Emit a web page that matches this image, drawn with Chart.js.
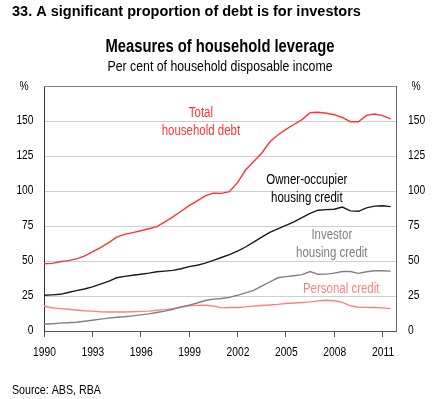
<!DOCTYPE html>
<html>
<head>
<meta charset="utf-8">
<script src="https://cdn.jsdelivr.net/npm/chart.js@4.4.0/dist/chart.umd.min.js"></script>
<style>
  html, body { margin: 0; padding: 0; background: #fff; }
  #wrap { width: 440px; height: 399px; position: relative; }
</style>
</head>
<body>
<div id="wrap"><canvas id="leverage"></canvas></div>
<script>
'use strict';

// half-yearly observations, per cent of household disposable income
var years = [
  1990.0, 1990.5, 1991.0, 1991.5, 1992.0, 1992.5, 1993.0, 1993.5, 1994.0, 1994.5,
  1995.0, 1995.5, 1996.0, 1996.5, 1997.0, 1997.5, 1998.0, 1998.5, 1999.0, 1999.5,
  2000.0, 2000.5, 2001.0, 2001.5, 2002.0, 2002.5, 2003.0, 2003.5, 2004.0, 2004.5,
  2005.0, 2005.5, 2006.0, 2006.5, 2007.0, 2007.5, 2008.0, 2008.5, 2009.0, 2009.5,
  2010.0, 2010.5, 2011.0, 2011.5
];
var totalDebt = [
  48, 48.3, 49.5, 50.3, 51.5, 53.5, 56.5, 59.5, 63, 67,
  69, 70.3, 71.6, 73, 74.5, 78, 81.5, 85.5, 89.5, 93,
  96.5, 98.5, 98.3, 99.5, 106, 115, 121, 127, 135, 140,
  144, 147.5, 151, 156, 156.2, 155.5, 154.5, 152.5, 149.5, 149.5,
  154, 155, 153.8, 151.5
];
var ownerOccupier = [
  25.5, 25.8, 26.2, 27.5, 28.8, 30, 31.5, 33.5, 35.5, 38,
  39, 39.8, 40.5, 41.3, 42.3, 42.8, 43.3, 44.5, 46, 47,
  48.5, 50.5, 52.5, 54.5, 57, 60, 63.5, 67, 70.5, 73,
  75.5, 78, 81, 84, 86.3, 86.7, 87, 88.5, 85.8, 85.5,
  88, 89.2, 89.5, 88.8
];
var investor = [
  4.8, 5.2, 5.6, 5.9, 6.3, 7, 7.7, 8.5, 9.2, 9.8,
  10.2, 10.8, 11.5, 12.2, 13.2, 14.2, 15.5, 17.2, 18.5, 20,
  21.8, 22.8, 23.2, 24, 25.5, 27.2, 29, 32, 35, 38,
  38.8, 39.5, 40.3, 42.5, 40.5, 40.6, 41.3, 42.5, 42.5, 41.2,
  42.3, 43, 43, 42.8
];
var personal = [
  17.7, 16.6, 16, 15.5, 15, 14.5, 14.2, 13.8, 13.6, 13.6,
  13.6, 13.8, 14, 14.2, 14.8, 15.3, 16, 17, 18, 18.3,
  18.4, 17.9, 16.5, 16.8, 16.8, 17.2, 17.8, 18.2, 18.6, 19,
  19.6, 20, 20.4, 20.8, 21.5, 22, 21.6, 20.5, 18, 17,
  16.9, 16.8, 16.5, 16
];
var xTicks = [1990, 1993, 1996, 1999, 2002, 2005, 2008, 2011];
var yTicks = [0, 25, 50, 75, 100, 125, 150, 175];

var FONT = '"Liberation Sans", Arial, sans-serif';
var SQUEEZE = 0.82; // the original uses a narrow face, no narrow font here

Chart.defaults.font.family = FONT;
Chart.defaults.color = '#000';

function pts(arr) {
  return years.map(function (x, i) { return { x: x, y: arr[i] }; });
}

// text drawn squeezed sideways to look like Arial Narrow
function narrow(c, text, x, y, align) {
  c.save();
  c.translate(x, y);
  c.scale(SQUEEZE, 1);
  c.textAlign = align;
  c.fillText(text, 0, 0);
  c.restore();
}

// labels placed on the chart next to each line
var notes = [
  { lines: ['Total', 'household debt'], x: 1999.73, y: 155.7, color: '#ff3535' },
  { lines: ['Owner-occupier', 'housing credit'], x: 2006.3, y: 108, color: '#000' },
  { lines: ['Investor', 'housing credit'], x: 2007.85, y: 68.6, color: '#808080' },
  { lines: ['Personal credit'], x: 2008.43, y: 29.7, color: '#ff8080' }
];

var textPlugin = {
  id: 'texts',
  afterDraw: function (chart) {
    var c = chart.ctx;
    var a = chart.chartArea;
    var sx = chart.scales.x;
    var sy = chart.scales.y;
    c.save();
    c.textBaseline = 'middle';

    // frame top line
    c.strokeStyle = '#888';
    c.lineWidth = 1;
    c.beginPath();
    c.moveTo(a.left, a.top + 0.5);
    c.lineTo(a.right, a.top + 0.5);
    c.stroke();

    c.fillStyle = '#000';
    c.textAlign = 'left';
    c.font = 'bold 14.5px ' + FONT;
    c.fillText('33. A significant proportion of debt is for investors', 12, 12);

    c.font = 'bold 18px ' + FONT;
    narrow(c, 'Measures of household leverage', 220, 47, 'center');
    c.font = '15px ' + FONT;
    narrow(c, 'Per cent of household disposable income', 220, 67, 'center');

    // axis labels
    c.font = '12.5px ' + FONT;
    yTicks.forEach(function (v) {
      var py = sy.getPixelForValue(v);
      var t = v === 175 ? '%' : String(v);
      if (v === 175) {
        narrow(c, t, 24, py + 1, 'center');
        narrow(c, t, 416, py + 1, 'center');
      } else {
        narrow(c, t, 33.5, py, 'right');
        narrow(c, t, 408, py, 'left');
      }
    });
    xTicks.forEach(function (v) {
      narrow(c, String(v), sx.getPixelForValue(v) + 0.5, 352.5, 'center');
    });

    c.font = '14px ' + FONT;
    notes.forEach(function (n) {
      c.fillStyle = n.color;
      var px = sx.getPixelForValue(n.x);
      var py = sy.getPixelForValue(n.y);
      n.lines.forEach(function (t, i) {
        narrow(c, t, px, py + i * 18, 'center');
      });
    });

    c.fillStyle = '#000';
    c.font = '13px ' + FONT;
    narrow(c, 'Source: ABS, RBA', 12, 390, 'left');
    c.restore();
  }
};

function line(label, arr, color) {
  return {
    label: label,
    data: pts(arr),
    borderColor: color,
    borderWidth: 1.4,
    pointRadius: 0,
    tension: 0,
    fill: false
  };
}

var ctx = document.getElementById('leverage');
new Chart(ctx, {
  type: 'line',
  data: {
    datasets: [
      line('Total household debt', totalDebt, '#ff3535'),
      line('Owner-occupier housing credit', ownerOccupier, '#1a1a1a'),
      line('Investor housing credit', investor, '#808080'),
      line('Personal credit', personal, '#ff8080')
    ]
  },
  options: {
    responsive: true,
    maintainAspectRatio: false,
    animation: false,
    layout: { padding: { top: 86, left: 0, right: 0, bottom: 0 } },
    plugins: {
      legend: { display: false },
      tooltip: { enabled: false }
    },
    scales: {
      x: {
        type: 'linear',
        min: 1990,
        max: 2011.83,
        afterBuildTicks: function (s) { s.ticks = xTicks.map(function (v) { return { value: v }; }); },
        afterFit: function (s) { s.height = 68; },
        grid: { drawOnChartArea: false, drawTicks: true, tickLength: 6, color: '#555' },
        border: { color: '#555' },
        ticks: { display: false }
      },
      y: {
        position: 'left',
        min: 0,
        max: 175,
        afterBuildTicks: function (s) { s.ticks = yTicks.map(function (v) { return { value: v }; }); },
        afterFit: function (s) { s.width = 44; },
        grid: { color: '#cfcfcf', drawTicks: false },
        border: { color: '#333' },
        ticks: { display: false }
      },
      y2: {
        position: 'right',
        min: 0,
        max: 175,
        afterBuildTicks: function (s) { s.ticks = yTicks.map(function (v) { return { value: v }; }); },
        afterFit: function (s) { s.width = 44; },
        grid: { drawOnChartArea: false, drawTicks: false },
        border: { color: '#666' },
        ticks: { display: false }
      }
    }
  },
  plugins: [textPlugin]
});
</script>
</body>
</html>
